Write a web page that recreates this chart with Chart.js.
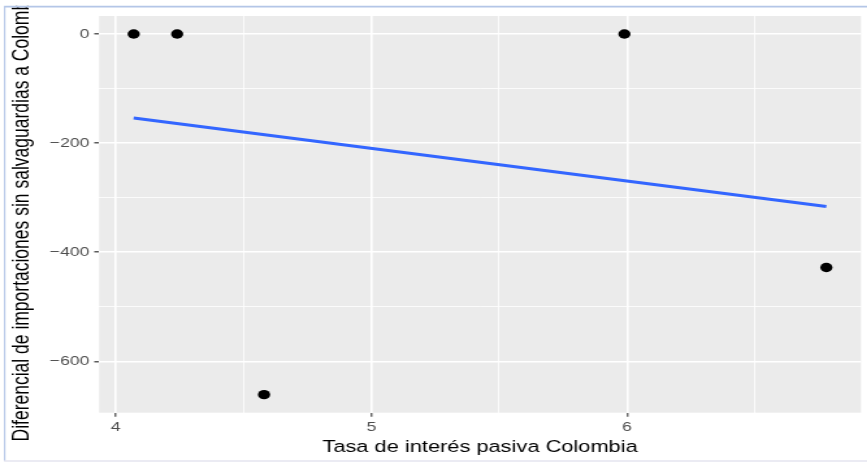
<!DOCTYPE html>
<html>
<head>
<meta charset="utf-8">
<script src="https://cdn.jsdelivr.net/npm/chart.js@4/dist/chart.umd.min.js"></script>
<style>
  html, body { margin: 0; padding: 0; background: #ffffff; overflow: hidden; }
  #wrap { width: 867px; height: 462px; overflow: hidden; position: relative; }
  /* the figure is laid out on a narrower canvas and widened horizontally */
  #c { display: block; transform-origin: 0 0; transform: scaleX(1.3); }
</style>
</head>
<body>
<div id="wrap"><canvas id="c" width="667" height="462"></canvas></div>
<script>
// Observaciones: tasa de interés pasiva vs diferencial de importaciones
const tasaInteres = [4.07, 4.24, 5.99, 4.58, 6.78];
const diferencial = [0, 0, 0, -661, -428];

// Recta de regresión lineal (extremos)
const ajusteX = [4.07, 6.78];
const ajusteY = [-154, -316];

// Ejes
const xMajorTicks = [4, 5, 6];
const xMinorTicks = [4.5, 5.5, 6.5];
const xTickLabels = ['4', '5', '6'];
const yMajorTicks = [0, -200, -400, -600];
const yMinorTicks = [-100, -300, -500];
const yTickLabels = ['0', '\u2212200', '\u2212400', '\u2212600'];
const xLimits = [3.9345, 6.9155];
const yLimits = [-694.05, 33.05];

const tituloX = 'Tasa de interés pasiva Colombia';
const tituloY = 'Diferencial de importaciones sin salvaguardias a Colombia';

const FONT = '"Liberation Sans", Arial, Helvetica, sans-serif';

const puntos = tasaInteres.map((x, i) => ({ x: x, y: diferencial[i] }));
const recta = ajusteX.map((x, i) => ({ x: x, y: ajusteY[i] }));

function buildTicks(major, minor) {
  return scale => {
    scale.ticks = major.concat(minor).sort((a, b) => a - b).map(v => ({ value: v }));
  };
}
function tickLabel(major, labels) {
  return value => {
    const i = major.indexOf(value);
    return i >= 0 ? labels[i] : '';
  };
}
function gridWidth(major) {
  return ctx => (ctx.tick && major.indexOf(ctx.tick.value) >= 0) ? 1.6 : 0.8;
}
function tickColor(major) {
  return ctx => (ctx.tick && major.indexOf(ctx.tick.value) >= 0) ? '#333333' : 'rgba(0,0,0,0)';
}

// gray panel behind the grid, plus the thin frame around the figure
const panelPlugin = {
  id: 'panel',
  beforeDraw(chart) {
    const { ctx, chartArea: a } = chart;
    ctx.save();
    ctx.fillStyle = '#EBEBEB';
    ctx.fillRect(a.left, a.top, a.right - a.left, a.bottom - a.top);
    ctx.restore();
  },
  afterDraw(chart) {
    const ctx = chart.ctx;
    const w = chart.width;
    ctx.save();
    ctx.fillStyle = '#ffffff';
    ctx.fillRect(0, 0, w, 5.8);
    ctx.fillRect(0, 0, 3, chart.height);
    ctx.strokeStyle = '#B4C6E7';
    ctx.lineWidth = 1.6;
    ctx.beginPath();
    ctx.moveTo(3.1, 6.6);
    ctx.lineTo(w, 6.6);
    ctx.stroke();
    ctx.lineWidth = 1.1;
    ctx.beginPath();
    ctx.moveTo(3.6, 6.6);
    ctx.lineTo(3.6, 461);
    ctx.stroke();
    ctx.strokeStyle = '#E4E4EF';
    ctx.lineWidth = 1.4;
    ctx.beginPath();
    ctx.moveTo(3.1, 461);
    ctx.lineTo(w, 461);
    ctx.stroke();
    ctx.restore();
  }
};

new Chart(document.getElementById('c'), {
  type: 'scatter',
  data: {
    datasets: [
      {
        data: puntos,
        backgroundColor: '#000000',
        borderColor: '#000000',
        pointRadius: 4.7,
        pointBorderWidth: 0,
        showLine: false
      },
      {
        data: recta,
        showLine: true,
        borderColor: '#3366FF',
        borderWidth: 3,
        pointRadius: 0,
        fill: false
      }
    ]
  },
  plugins: [panelPlugin],
  options: {
    responsive: false,
    animation: false,
    events: [],
    layout: { padding: { left: 0, right: 2.2, top: 16, bottom: 0 } },
    plugins: { legend: { display: false }, tooltip: { enabled: false } },
    scales: {
      x: {
        type: 'linear',
        min: xLimits[0],
        max: xLimits[1],
        afterBuildTicks: buildTicks(xMajorTicks, xMinorTicks),
        afterFit: s => { s.height = 49.3; },
        border: { display: false },
        grid: {
          color: '#FFFFFF',
          lineWidth: gridWidth(xMajorTicks),
          drawTicks: true,
          tickLength: 4,
          tickWidth: 1.1,
          tickColor: tickColor(xMajorTicks)
        },
        ticks: {
          autoSkip: false,
          maxRotation: 0,
          padding: 2,
          color: '#4D4D4D',
          font: { family: FONT, size: 13.5 },
          callback: tickLabel(xMajorTicks, xTickLabels)
        },
        title: {
          display: true,
          text: tituloX,
          color: '#000000',
          font: { family: FONT, size: 16.8 },
          padding: { top: 0, bottom: 4.4 }
        }
      },
      y: {
        type: 'linear',
        min: yLimits[0],
        max: yLimits[1],
        afterBuildTicks: buildTicks(yMajorTicks, yMinorTicks),
        afterFit: s => { s.width = 76.2; },
        border: { display: false },
        grid: {
          color: '#FFFFFF',
          lineWidth: gridWidth(yMajorTicks),
          drawTicks: true,
          tickLength: 3.7,
          tickWidth: 1.2,
          tickColor: tickColor(yMajorTicks)
        },
        ticks: {
          autoSkip: false,
          padding: 3.8,
          color: '#4D4D4D',
          font: { family: FONT, size: 13.5 },
          callback: tickLabel(yMajorTicks, yTickLabels)
        },
        title: {
          display: true,
          text: tituloY,
          color: '#000000',
          font: { family: FONT, size: 17.5 },
          padding: { top: 7, bottom: 0 }
        }
      }
    }
  }
});
</script>
</body>
</html>
